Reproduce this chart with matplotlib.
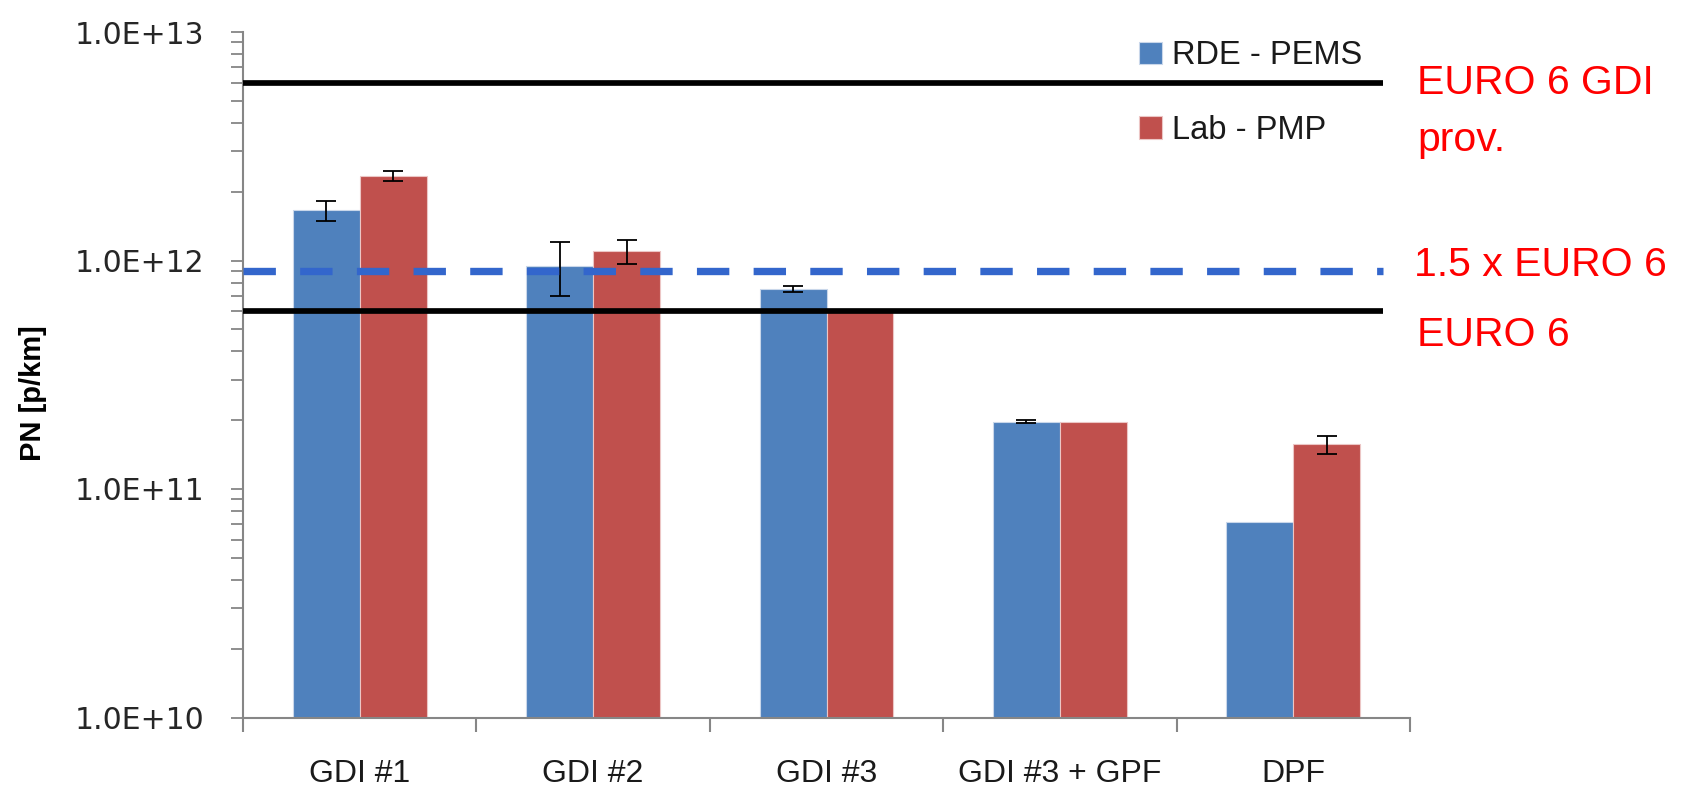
import numpy as np
import matplotlib.pyplot as plt
from matplotlib.ticker import FixedLocator, FuncFormatter, LogLocator, NullFormatter

# data
categories = ['GDI #1', 'GDI #2', 'GDI #3', 'GDI #3 + GPF', 'DPF']
rde_pems = [1.66e12, 9.5e11, 7.5e11, 1.97e11, 7.2e10]
rde_err = [1.7e11, 2.5e11, 2.5e10, 3e9, 0]
lab_pmp = [2.35e12, 1.1e12, 6.0e11, 1.97e11, 1.57e11]
lab_err = [1.2e11, 1.35e11, 0, 0, 1.4e10]
limits = [6e12, 9e11, 6e11]     # EURO 6 GDI prov., 1.5 x EURO 6, EURO 6

blue = '#4F81BD'
red = '#C0504D'
grey = '#868686'

fig = plt.figure(figsize=(16.89, 7.88), dpi=100)
ax = fig.add_axes([243/1689, 1-717.5/788, (1410-243)/1689, (717.5-32)/788])

x = np.arange(len(categories)) + 0.5
w = 0.287
ax.bar(x - w, rde_pems, w, align='edge', color=blue, edgecolor='#c9d7ea', lw=0.8,
       label='RDE - PEMS', zorder=2)
ax.bar(x, lab_pmp, w, align='edge', color=red, edgecolor='#ecc6c5', lw=0.8,
       label='Lab - PMP', zorder=2)

# error bars only where there is one
for xs, vals, errs in [(x - w/2, rde_pems, rde_err), (x + w/2, lab_pmp, lab_err)]:
    vals, errs = np.array(vals), np.array(errs)
    m = errs > 0
    ax.errorbar(xs[m], vals[m], yerr=errs[m], fmt='none', ecolor='black', elinewidth=1.3,
                capsize=7, capthick=1.3, zorder=3)

# limit lines (end a little before the right end of the axis)
xend = (1383 - 242) / 233.6
ax.plot([0, xend], [limits[0]]*2, color='black', lw=4.1, zorder=4, solid_capstyle='butt')
ax.plot([0, xend], [limits[2]]*2, color='black', lw=4.1, zorder=4, solid_capstyle='butt')
ax.plot([0, xend], [limits[1]]*2, color='#3366CC', lw=5.3, dashes=(4.4, 3.3), zorder=4)

ax.set_yscale('log')
ax.set_ylim(1e10, 1e13)
ax.set_xlim(0, 5)
ax.yaxis.set_major_locator(FixedLocator([1e10, 1e11, 1e12, 1e13]))
ax.yaxis.set_major_formatter(FuncFormatter(lambda v, p: '1.0E+%d' % round(np.log10(v))))
ax.yaxis.set_minor_locator(LogLocator(base=10, subs=np.arange(2, 10)))
ax.yaxis.set_minor_formatter(NullFormatter())
ax.tick_params(axis='y', which='both', direction='out', length=9, width=1.3, color=grey,
               pad=19, labelsize=21.5, labelcolor='#262626')
for t in ax.get_yticklabels():
    t.set_fontfamily('DejaVu Sans')

ax.set_xticks(np.arange(6))
ax.set_xticklabels([])
ax.set_xticks(x, minor=True)
ax.set_xticklabels(categories, minor=True, fontsize=23, family='Liberation Sans', color='#1a1a1a')
ax.tick_params(axis='x', which='major', direction='out', length=10, width=1.5, color=grey)
ax.tick_params(axis='x', which='minor', length=0, pad=30)

for s in ['top', 'right']:
    ax.spines[s].set_visible(False)
for s in ['left', 'bottom']:
    ax.spines[s].set_color(grey)
    ax.spines[s].set_linewidth(1.5)

fig.text(33/1689, 1-393/788, 'PN [p/km]', rotation=90, ha='center', va='center',
         fontsize=21, fontweight='bold', family='Liberation Sans')

leg = ax.legend(loc='upper left', bbox_to_anchor=(1123/1689, 1-24/788),
                bbox_transform=fig.transFigure, frameon=False, borderpad=0,
                handlelength=0.68, handleheight=0.68, handletextpad=0.33,
                labelspacing=1.33, prop={'family': 'Liberation Sans', 'size': 23.5})
for t in leg.get_texts():
    t.set_color('#1a1a1a')

# red labels on the right
lab_kw = dict(xycoords=('figure fraction', 'data'), textcoords='offset points',
              color='red', fontsize=29.5, family='Liberation Sans', ha='left')
xl = 1417/1689
ax.annotate('EURO 6 GDI', (xl, limits[0]), (0, 0), va='center', **lab_kw)
ax.annotate('prov.', (xl, limits[0]), (0, -41), va='center', **lab_kw)
ax.annotate('1.5 x EURO 6', (xl, limits[1]), (-2, 4), va='center', **lab_kw)
ax.annotate('EURO 6', (xl, limits[2]), (0, -17), va='center', **lab_kw)

plt.savefig('out.png', dpi=100)
